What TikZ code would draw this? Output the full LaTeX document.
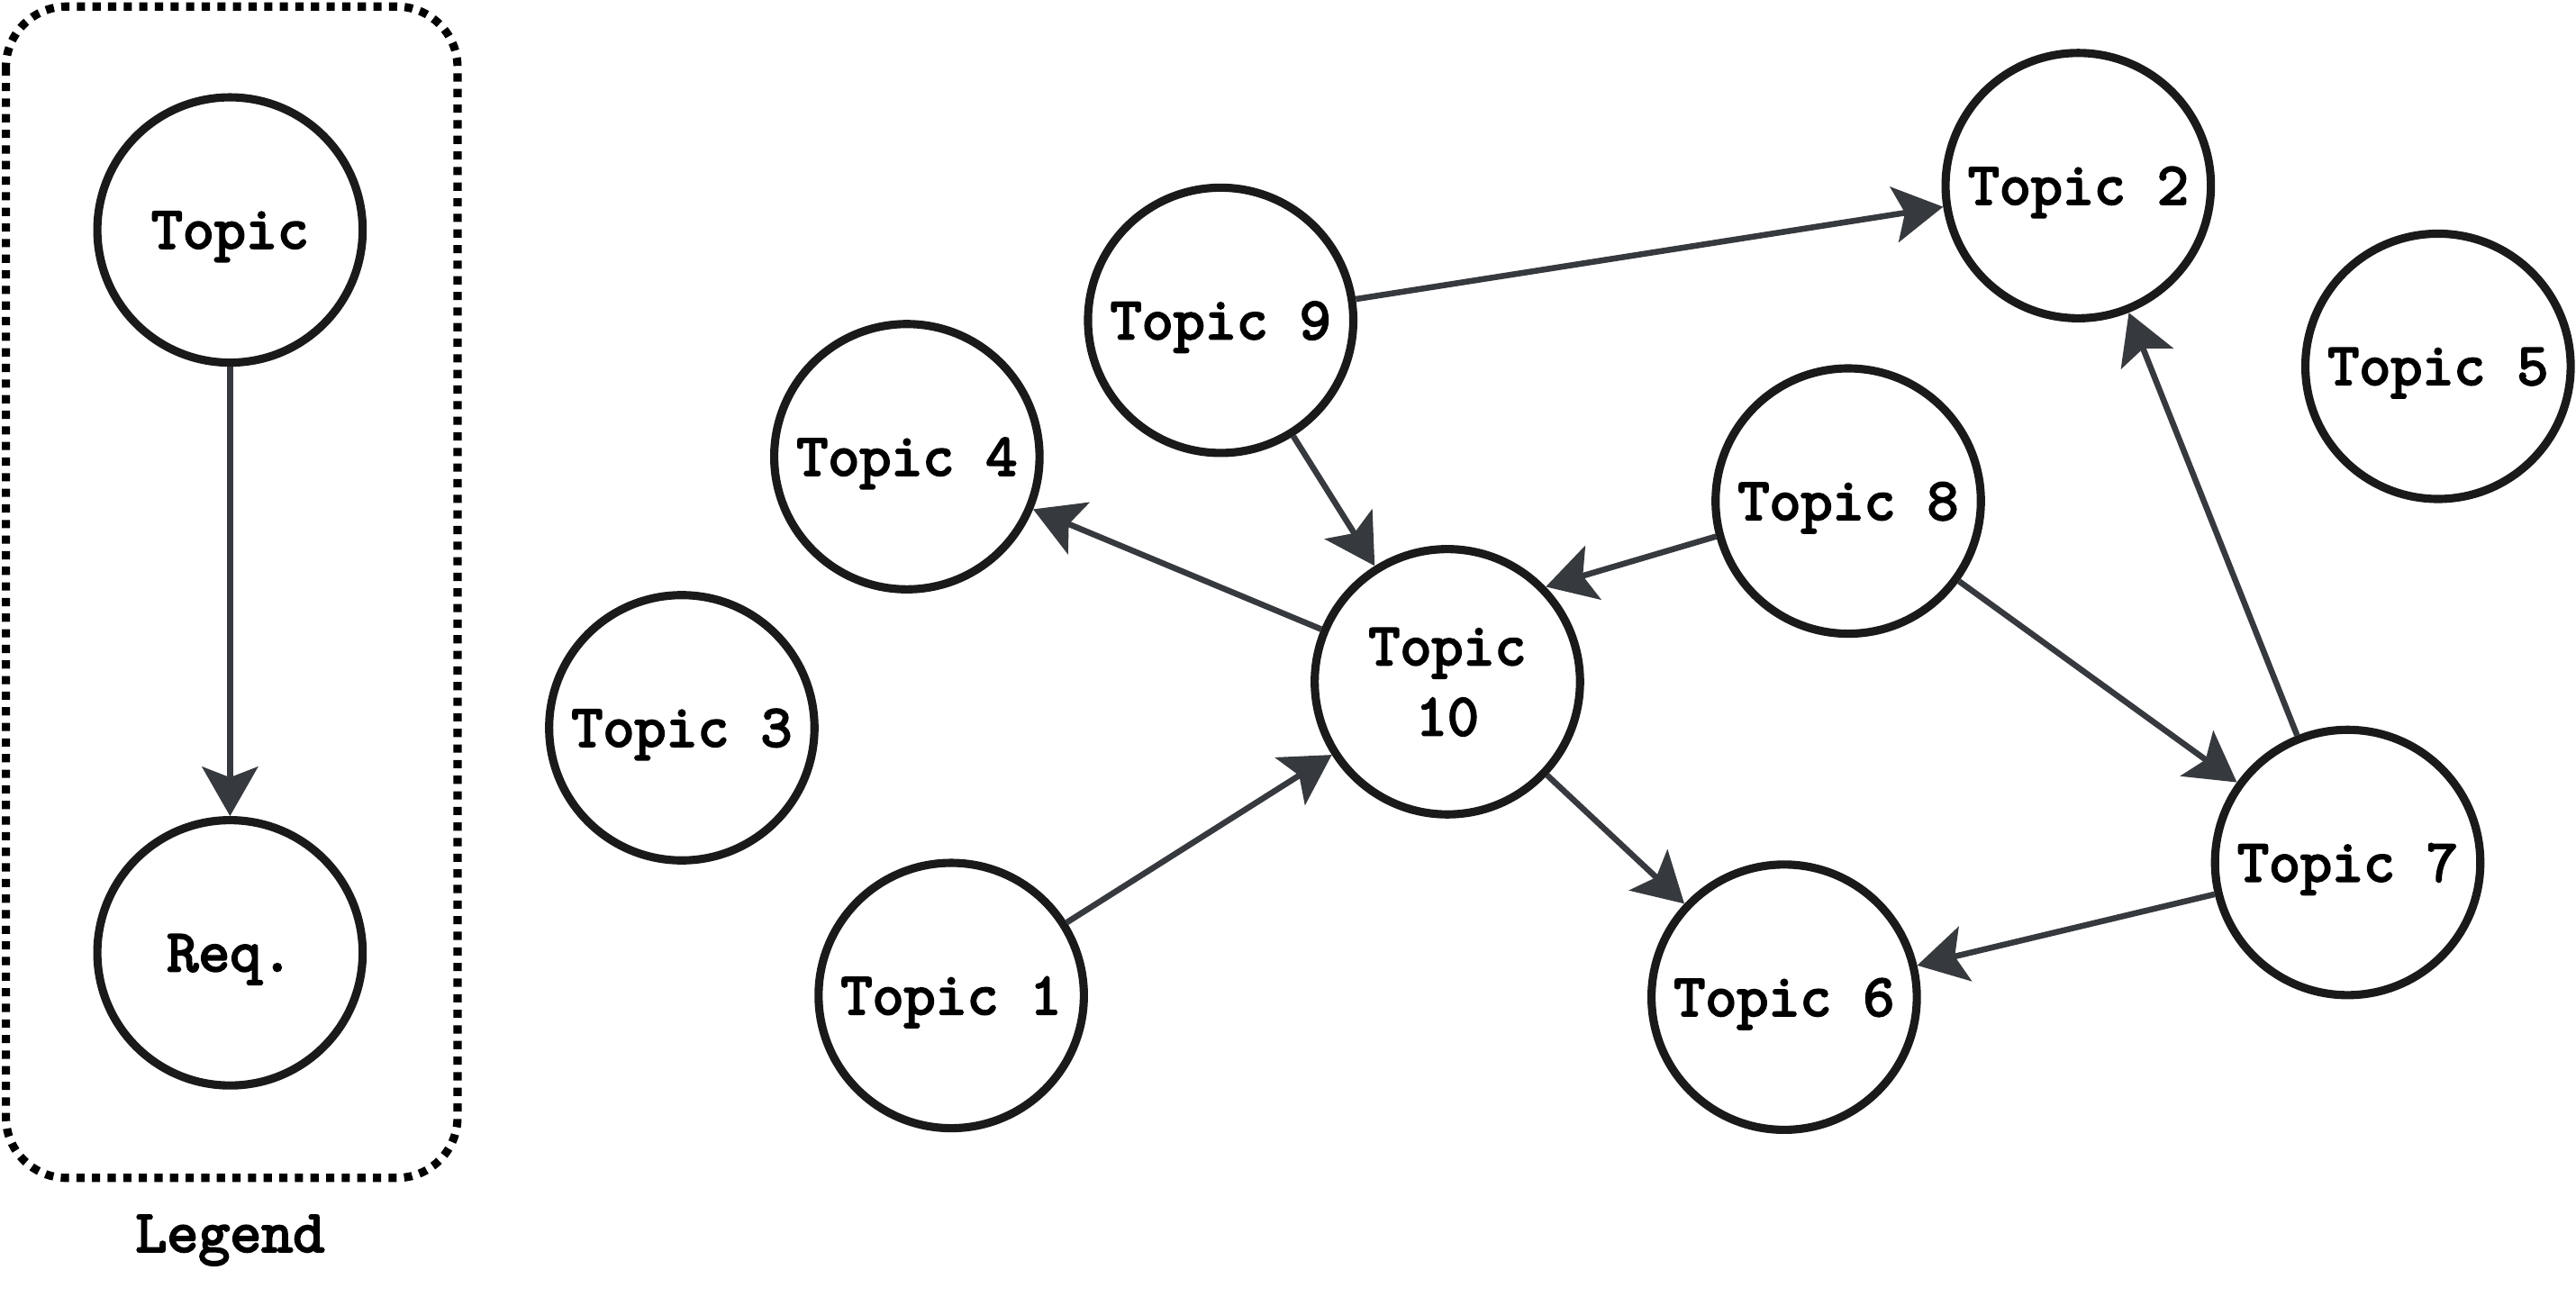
\documentclass[tikz,border=0pt]{standalone}
\usepackage{fontspec}
\setmonofont{lmmono10-regular.otf}[AutoFakeBold=3.2]
\usepackage{tikz}
\usetikzlibrary{arrows.meta}
\definecolor{ringcol}{HTML}{1A1A1A}
\definecolor{edgecol}{HTML}{36393D}
\tikzset{
  topicfont/.style={font=\fontsize{10.4pt}{12.2pt}\selectfont\ttfamily\bfseries},
  topicnode/.style={circle,draw=ringcol,line width=0.05cm,fill=white,
    minimum size=1.615cm,inner sep=0pt,align=center,text depth=0pt,topicfont},
  reqedge/.style={draw=edgecol,line width=0.036cm,
    -{Stealth[length=0.3cm,width=0.34cm,inset=0.065cm,fill=edgecol]}}
}
\begin{document}
\begin{tikzpicture}
\useasboundingbox (0,0) rectangle (15.68,-8.004);
% legend
\draw[line width=0.05cm,dash pattern=on 0.05cm off 0.045cm,rounded corners=0.37cm]
  (0.036,-0.04) rectangle (2.785,-7.17);
\node[topicnode] (legtopic) at (1.40,-1.40) {Topic};
\node[topicnode] (legreq) at (1.40,-5.80) {Req.};
\node[topicfont] (legtext) at (1.40,-7.55) {Legend};
\draw[reqedge] (legtopic) -- (legreq);

% topics
\node[topicnode] (t1) at (5.79,-6.06) {Topic 1};
\node[topicnode] (t2) at (12.65,-1.13) {Topic 2};
\node[topicnode] (t3) at (4.15,-4.43) {Topic 3};
\node[topicnode] (t4) at (5.52,-2.78) {Topic 4};
\node[topicnode] (t5) at (14.84,-2.23) {Topic 5};
\node[topicnode] (t6) at (10.86,-6.07) {Topic 6};
\node[topicnode] (t7) at (14.29,-5.25) {Topic 7};
\node[topicnode] (t8) at (11.25,-3.05) {Topic 8};
\node[topicnode] (t9) at (7.43,-1.95) {Topic 9};
\node[topicnode] (t10) at (8.81,-4.15) {Topic\\10};

% requirements
\draw[reqedge] (t9) -- (t2);
\draw[reqedge] (t9) -- (t10);
\draw[reqedge] (t10) -- (t4);
\draw[reqedge] (t8.195.6) -- (t10.44.3);
\draw[reqedge] (t8) -- (t7);
\draw[reqedge] (t1) -- (t10);
\draw[reqedge] (t10) -- (t6);
\draw[reqedge] (t7) -- (t6);
\draw[reqedge] (t7) -- (t2);
\end{tikzpicture}
\end{document}
